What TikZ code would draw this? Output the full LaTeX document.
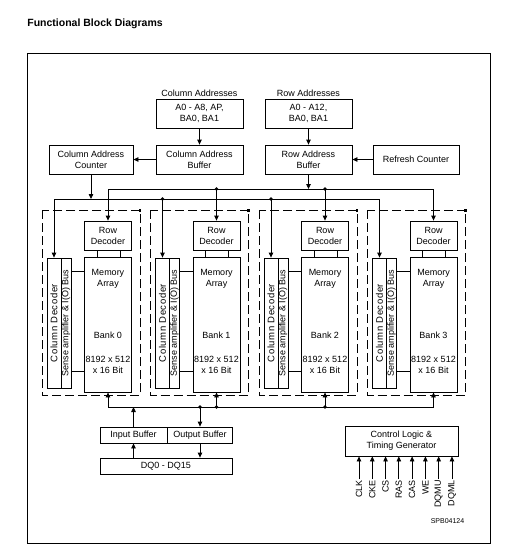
\documentclass[tikz,border=0pt]{standalone}
\usepackage{fontspec}
\setmainfont{Liberation Sans}
\usetikzlibrary{arrows.meta}
\begin{document}
\begin{tikzpicture}[x=1pt,y=-1pt,
  line width=0.8pt,
  blk/.style={draw, line width=0.8pt, inner sep=0pt, align=center, font=\fontsize{9}{11}\selectfont},
  rblk/.style={draw, line width=0.8pt, inner sep=0pt, rotate=90, font=\fontsize{9}{11}\selectfont},
  txt/.style={inner sep=0pt, align=center, font=\fontsize{9}{11}\selectfont},
  sig/.style={inner sep=1pt, rotate=90, anchor=east, font=\fontsize{9}{11}\selectfont},
  arr/.style={-{Triangle[length=5pt,width=4.5pt]}},
  arrb/.style={{Triangle[length=5pt,width=4.5pt]}-{Triangle[length=5pt,width=4.5pt]}},
  dashbox/.style={draw, line width=0.8pt, dash pattern=on 9pt off 4pt},
  dot/.style={fill, circle, inner sep=0pt, minimum size=3.6pt}
]
\useasboundingbox (0,0) rectangle (523,549);

% title and frame
\node[anchor=west, inner sep=0pt, font=\fontsize{10.5}{12}\selectfont\bfseries] (title) at (27,24) {Functional Block Diagrams};
\draw[line width=0.9pt] (27,53) rectangle (490,543);

% address inputs
\node[txt] (colAlbl) at (199.5,93) {Column Addresses};
\node[txt] (rowAlbl) at (308.5,93) {Row Addresses};
\node[blk, minimum width=87pt, minimum height=29pt] (colA) at (199.5,113.5) {A0 - A8, AP,\\BA0, BA1};
\node[blk, minimum width=87pt, minimum height=29pt] (rowA) at (308.5,113.5) {A0 - A12,\\BA0, BA1};

\node[blk, minimum width=87pt, minimum height=29pt] (colBuf) at (199.5,159.5) {Column Address\\Buffer};
\node[blk, minimum width=84pt, minimum height=29pt] (colCnt) at (91,159.5) {Column Address\\Counter};
\node[blk, minimum width=87pt, minimum height=29pt] (rowBuf) at (308.5,159.5) {Row Address\\Buffer};
\node[blk, minimum width=86pt, minimum height=29pt] (refresh) at (416,159.5) {Refresh Counter};

\draw[arr] (colA) -- (colBuf);
\draw[arr] (rowA) -- (rowBuf);
\draw[arr] (colBuf) -- (colCnt);
\draw[arr] (refresh) -- (rowBuf);

\coordinate (busR) at (0,189);
\coordinate (busC) at (0,199);
\coordinate (busD) at (0,407);

% banks
\foreach \i in {0,1,2,3} {
  \pgfmathsetmacro{\L}{42+108.5*\i}
  \draw[dashbox] (\L,210) rectangle (\L+98,395);
  \fill (\L+96.5,209) rectangle (\L+99,211.5);
  \node[blk, minimum width=47pt, minimum height=29pt] (rowDec\i) at (\L+66,235.5) {Row\\Decoder};
  \node[blk, minimum width=47pt, minimum height=135pt] (mem\i) at (\L+66,324.5) {};
  \node[rblk, minimum width=130pt, minimum height=14pt, font=\fontsize{9.5}{11}\selectfont] (colDec\i) at (\L+12,323) {\addfontfeature{LetterSpace=6}Column Decoder};
  \node[rblk, minimum width=130pt, minimum height=10pt] (sense\i) at (\L+24,323) {Sense amplifier \& I(O) Bus};
  \node[txt] (memT\i) at (\L+66,278.5) {Memory\\Array};
  \node[txt] (bank\i) at (\L+66,335) {Bank \i};
  \node[txt] (size\i) at (\L+66,365) {8192 x 512\\x 16 Bit};
  \draw ([xshift=-11pt]rowDec\i.south) -- ([xshift=-11pt]mem\i.north);
  \draw ([xshift=12pt]rowDec\i.south) -- ([xshift=12pt]mem\i.north);
  \coordinate (yA\i) at (0,271);
  \coordinate (yB\i) at (0,371);
  \draw (sense\i.south |- yA\i) -- (mem\i.west |- yA\i);
  \draw (sense\i.south |- yB\i) -- (mem\i.west |- yB\i);
}

% address buses
\draw[arrb] (rowDec0.north) -- (rowDec0.north |- busR) -- (rowDec3.north |- busR) -- (rowDec3.north);
\draw[arrb] (colDec0.east) -- (colDec0.east |- busC) -- (colDec3.east |- busC) -- (colDec3.east);
\foreach \i in {1,2} {
  \draw[arr] (rowDec\i.north |- busR) -- (rowDec\i.north);
  \node[dot] (dR\i) at (rowDec\i.north |- busR) {};
  \draw[arr] (colDec\i.east |- busC) -- (colDec\i.east);
  \node[dot] (dC\i) at (colDec\i.east |- busC) {};
}
\draw[arr] (colCnt) -- (colCnt.south |- busC);
\draw[arr] (rowBuf) -- (rowBuf.south |- busR);

% data bus
\draw[arrb] (mem0.south) -- (mem0.south |- busD) -- (mem3.south |- busD) -- (mem3.south);
\foreach \i in {1,2} {
  \draw[arr] (mem\i.south |- busD) -- (mem\i.south);
  \node[dot] (dD\i) at (mem\i.south |- busD) {};
}

% I/O buffers
\node[blk, minimum width=67pt, minimum height=16pt] (inBuf) at (133.5,435) {Input Buffer};
\node[blk, minimum width=65pt, minimum height=16pt] (outBuf) at (200,435) {Output Buffer};
\node[blk, minimum width=132pt, minimum height=16pt] (dq) at (166,466) {DQ0 - DQ15};
\draw[arr] (inBuf) -- (inBuf.north |- busD);
\draw[arr] (outBuf.north |- busD) -- (outBuf);
\node[dot] (dOut) at (outBuf.north |- busD) {};
\draw[arr] (inBuf.south |- dq.north) -- (inBuf.south);
\draw[arr] (outBuf.south) -- (outBuf.south |- dq.north);

% control logic
\node[blk, minimum width=113pt, minimum height=30pt] (ctrl) at (401.5,441) {Control Logic \&\\Timing Generator};
\foreach \n [count=\k from 0] in {CLK,CKE,CS,RAS,CAS,WE,DQMU,DQML} {
  \node[sig] (s\n) at (359+13.28*\k,479) {\n};
  \draw[arr] (s\n.east) -- (s\n.east |- ctrl.south);
}

\node[inner sep=0pt, font=\fontsize{7}{8}\selectfont] (code) at (447.5,521) {SPB04124};
\end{tikzpicture}
\end{document}
